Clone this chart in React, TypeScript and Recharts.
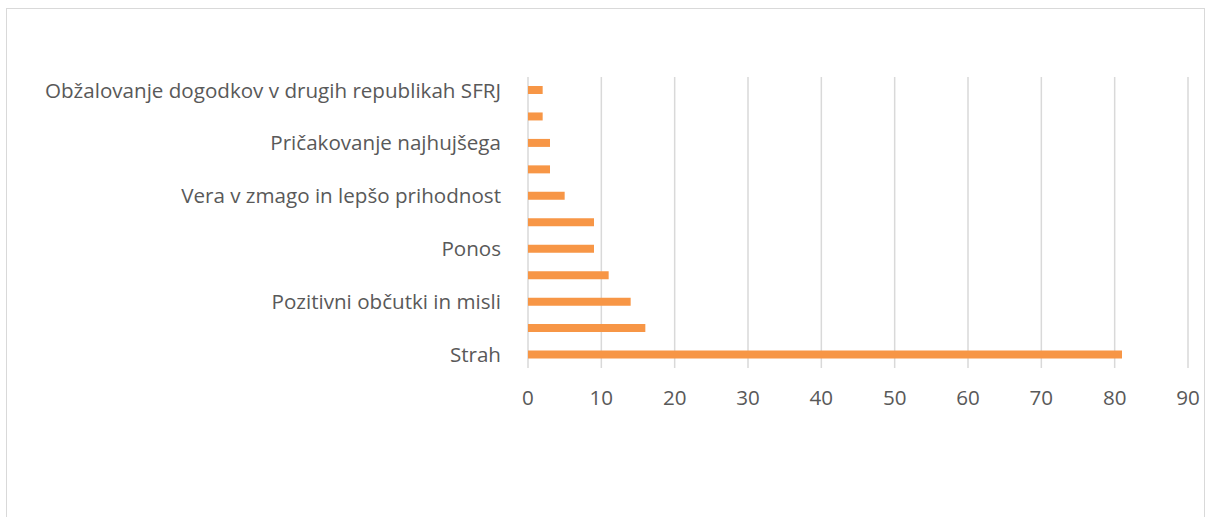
import { Bar, BarChart, CartesianGrid, XAxis, YAxis } from "recharts";

// top to bottom as drawn; only every other label is printed in the source chart
const categories = [
  "Obžalovanje dogodkov v drugih republikah SFRJ",
  "",
  "Pričakovanje najhujšega",
  "",
  "Vera v zmago in lepšo prihodnost",
  "",
  "Ponos",
  "",
  "Pozitivni občutki in misli",
  "",
  "Strah",
];
const values = [2, 2, 3, 3, 5, 9, 9, 11, 14, 16, 81];
const xTicks = [0, 10, 20, 30, 40, 50, 60, 70, 80, 90];

const data = categories.map((name, i) => ({ name, value: values[i] }));

const font = { fontFamily: "'Open Sans', sans-serif", fontSize: 20.6, fill: "#595959" };

export default function App() {
  return (
    <div style={{ position: "absolute", left: 0, top: 0, width: 1206, height: 517, background: "#fff" }}>
      <div
        style={{
          position: "absolute",
          left: 6,
          top: 8,
          width: 1199,
          height: 530,
          border: "1.5px solid #d9d9d9",
          boxSizing: "border-box",
        }}
      />
      <BarChart
        width={1206}
        height={517}
        data={data}
        layout="vertical"
        margin={{ top: 77, right: 18, bottom: 0, left: 8 }}
        style={{ position: "absolute", left: 0, top: 0 }}
      >
        <CartesianGrid horizontal={false} vertical stroke="#d9d9d9" strokeWidth={1.5} />
        <XAxis
          type="number"
          domain={[0, 90]}
          ticks={xTicks}
          axisLine={false}
          tickLine={false}
          tickSize={0}
          tickMargin={22}
          height={149}
          tick={font}
          interval={0}
        />
        <YAxis
          type="category"
          dataKey="name"
          width={520}
          axisLine={false}
          tickLine={false}
          tickSize={0}
          tickMargin={27}
          interval={0}
          allowDuplicatedCategory
          tick={font}
        />
        <Bar dataKey="value" fill="#f79646" barSize={8} isAnimationActive={false} />
      </BarChart>
    </div>
  );
}
